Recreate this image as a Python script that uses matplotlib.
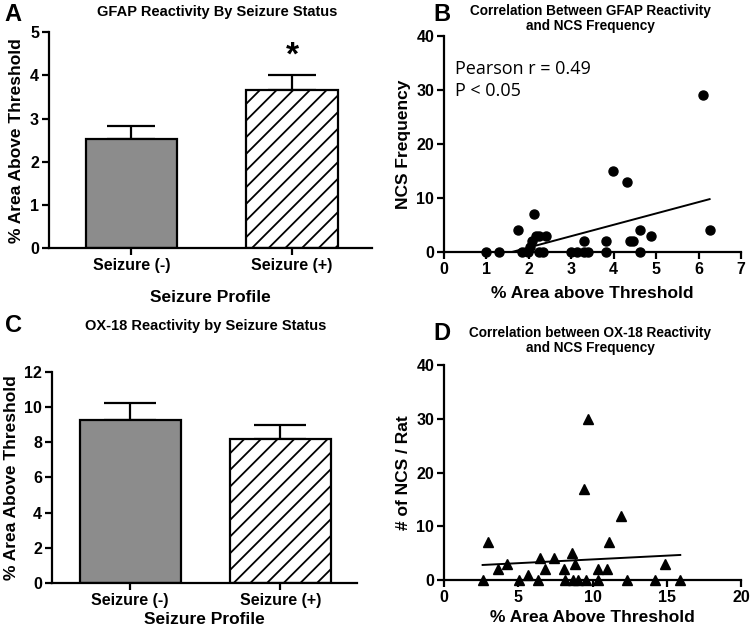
import numpy as np
import matplotlib.pyplot as plt

plt.rcParams['font.family'] = ['Liberation Sans', 'DejaVu Sans']
plt.rcParams['font.weight'] = 'bold'
plt.rcParams['axes.labelweight'] = 'bold'
plt.rcParams['hatch.linewidth'] = 1.3

# bar panels
groups = ['Seizure (-)', 'Seizure (+)']
gfap_mean = [2.52, 3.65]
gfap_sem = [0.30, 0.35]
ox18_mean = [9.25, 8.2]
ox18_sem = [1.0, 0.8]

# GFAP vs NCS scatter
gfap_x = [1.0, 1.3, 1.75, 1.85, 1.98, 2.03, 2.07, 2.12, 2.17, 2.23, 2.23, 2.33, 2.41,
          3.0, 3.13, 3.29, 3.29, 3.4, 3.81, 3.81, 3.98, 4.31, 4.38, 4.45, 4.61,
          4.63, 4.89, 6.1, 6.26]
gfap_ncs = [0, 0, 4, 0, 0, 1, 2, 7, 3, 3, 0, 0, 3,
            0, 0, 0, 2, 0, 2, 0, 15, 13, 2, 2, 4,
            0, 3, 29, 4]
gfap_fit = (2.1, -3.36)  # slope, intercept

# OX-18 vs NCS scatter
ox_x = [2.6, 2.94, 3.62, 4.22, 5.08, 5.64, 6.36, 6.47, 6.81, 7.44, 8.11, 8.16, 8.6,
        8.72, 8.83, 9.0, 9.57, 9.46, 9.73, 10.36, 10.4, 10.97, 11.08, 11.91, 12.31,
        14.22, 14.9, 15.91]
ox_ncs = [0, 7, 2, 3, 0, 1, 0, 4, 2, 4, 2, 0, 5,
          0, 3, 0, 0, 17, 30, 2, 0, 2, 7, 12, 0,
          0, 3, 0]
ox_fit = (0.14, 2.43)

fig = plt.figure(figsize=(7.5, 6.3), dpi=100)


def style(ax):
    for s in ['top', 'right']:
        ax.spines[s].set_visible(False)
    for s in ['left', 'bottom']:
        ax.spines[s].set_linewidth(1.6)
    ax.tick_params(width=1.6, length=5, labelsize=11.5, pad=2)


def bar_panel(rect, means, sems, ylim, yticks, cap, width, xlim):
    ax = fig.add_axes(rect)
    x = np.arange(len(means))
    ax.bar(x[0], means[0], width=width, color='#8c8c8c', edgecolor='black', linewidth=1.6, zorder=2)
    ax.bar(x[1], means[1], width=width, color='white', edgecolor='black', linewidth=1.6,
           hatch='//', zorder=2)
    ax.errorbar(x, means, yerr=[[0, 0], sems], fmt='none', ecolor='black',
                elinewidth=1.6, capsize=cap, capthick=1.6, zorder=1)
    ax.set_xlim(*xlim)
    ax.set_ylim(*ylim)
    ax.set_yticks(yticks)
    ax.set_xticks(x)
    ax.set_xticklabels(groups)
    style(ax)
    ax.set_ylabel('% Area Above Threshold', fontsize=12.5)
    ax.set_xlabel('Seizure Profile', fontsize=12.5)
    return ax


# A
axA = bar_panel([0.065, 0.606, 0.431, 0.343], gfap_mean, gfap_sem, (0, 5), range(0, 6),
                17, 0.567, (-0.514, 1.498))
axA.xaxis.labelpad = 12
axA.text(1, gfap_mean[1] + gfap_sem[1] + 0.08, '*', ha='center', va='bottom', fontsize=24)
fig.text(0.29, 0.981, 'GFAP Reactivity By Seizure Status', ha='center', va='center', fontsize=10.5)
fig.text(0.006, 0.977, 'A', ha='left', va='center', fontsize=17)

# C
axC = bar_panel([0.069, 0.0746, 0.4067, 0.335], ox18_mean, ox18_sem, (0, 12), range(0, 13, 2),
                19, 0.673, (-0.523, 1.51))
axC.xaxis.labelpad = 3
fig.text(0.274, 0.483, 'OX-18 Reactivity by Seizure Status', ha='center', va='center', fontsize=10.5)
fig.text(0.006, 0.483, 'C', ha='left', va='center', fontsize=17)

# B
axB = fig.add_axes([0.592, 0.6, 0.396, 0.343])
axB.plot(gfap_x, gfap_ncs, 'o', color='black', ms=6.5, clip_on=False, zorder=3)
xl = np.array([min(gfap_x), max(gfap_x)])
axB.plot(xl, gfap_fit[0] * xl + gfap_fit[1], color='black', lw=1.4, zorder=2)
axB.set_xlim(0, 7)
axB.set_ylim(0, 40)
axB.set_xticks(range(0, 8))
axB.set_yticks(range(0, 41, 10))
style(axB)
axB.set_ylabel('NCS Frequency', fontsize=12.5)
axB.set_xlabel('% Area above Threshold', fontsize=12.5, labelpad=7)
axB.text(0.25, 35.5, 'Pearson r = 0.49\nP < 0.05', fontsize=13, fontweight='normal',
         family=['Open Sans', 'DejaVu Sans'], va='top', linespacing=1.25)
fig.text(0.787, 0.971, 'Correlation Between GFAP Reactivity\nand NCS Frequency',
         ha='center', va='center', fontsize=9.8, linespacing=1.1)
fig.text(0.578, 0.977, 'B', ha='left', va='center', fontsize=17)

# D
axD = fig.add_axes([0.592, 0.0794, 0.396, 0.341])
axD.plot(ox_x, ox_ncs, '^', color='black', ms=7.5, clip_on=False, zorder=3)
xl = np.array([min(ox_x), max(ox_x)])
axD.plot(xl, ox_fit[0] * xl + ox_fit[1], color='black', lw=1.4, zorder=2)
axD.set_xlim(0, 20)
axD.set_ylim(0, 40)
axD.set_xticks(range(0, 21, 5))
axD.set_yticks(range(0, 41, 10))
style(axD)
axD.set_ylabel('# of NCS / Rat', fontsize=12.5)
axD.set_xlabel('% Area Above Threshold', fontsize=12.5)
fig.text(0.787, 0.46, 'Correlation between OX-18 Reactivity\nand NCS Frequency',
         ha='center', va='center', fontsize=9.8, linespacing=1.1)
fig.text(0.578, 0.471, 'D', ha='left', va='center', fontsize=17)

fig.savefig('out.png', dpi=100)
